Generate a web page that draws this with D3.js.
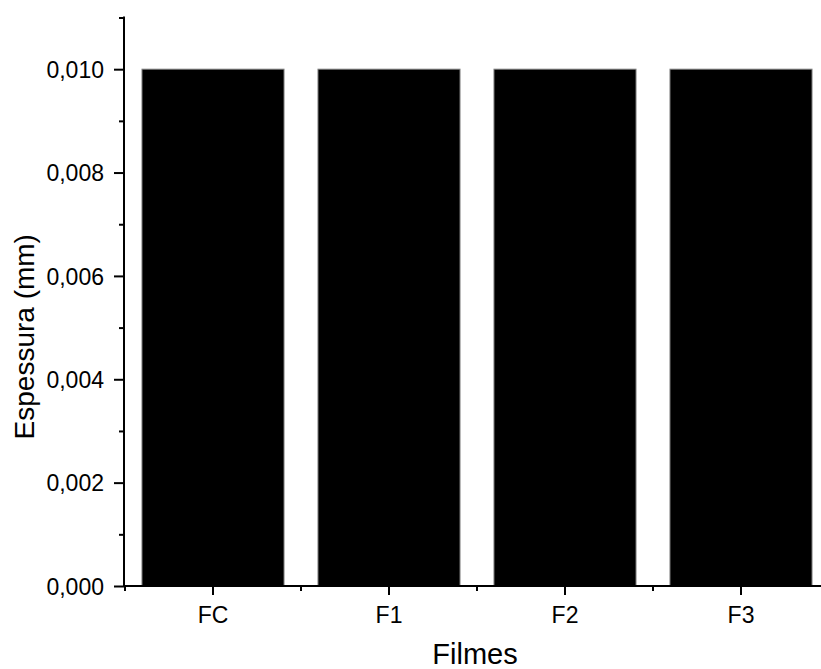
<!DOCTYPE html>
<html>
<head>
<meta charset="utf-8">
<script src="https://cdn.jsdelivr.net/npm/d3@7"></script>
<style>
  body { margin: 0; background: #fff; }
  svg { display: block; }
  text { font-family: "Liberation Sans", Arial, sans-serif; fill: #000; }
</style>
</head>
<body>
<div id="grafico"></div>
<script>
// Dados do gráfico
const filmes = ['FC', 'F1', 'F2', 'F3'];
const espessura = [0.010, 0.010, 0.010, 0.010];
const ticksMaiores = [0, 0.002, 0.004, 0.006, 0.008, 0.010];
const ticksMenores = [0.001, 0.003, 0.005, 0.007, 0.009, 0.011];

const width = 821;
const height = 669;
const x0 = 125, x1 = 829;
const y0 = 586, yTopo = 17.5;

const svg = d3.select('#grafico')
	.append('svg')
	.attr('width', width)
	.attr('height', height);

const x = d3.scaleBand()
	.domain(filmes)
	.range([x0, x1])
	.paddingInner(0.193)
	.paddingOuter(0.0965);

const y = d3.scaleLinear()
	.domain([0, 0.011])
	.range([y0, yTopo]);

const fmt = v => d3.format('.3f')(v).replace('.', ',');

// Barras
svg.selectAll('rect.barra')
	.data(filmes)
	.enter()
	.append('rect')
	.attr('class', 'barra')
	.attr('x', d => x(d))
	.attr('y', (d, i) => y(espessura[i]))
	.attr('width', x.bandwidth())
	.attr('height', (d, i) => y0 - y(espessura[i]))
	.attr('fill', '#000')
	.attr('stroke', '#7f7f7f')
	.attr('stroke-width', 1);

// Eixo Y
const eixoY = svg.append('g')
	.attr('transform', `translate(${x0 - 1},0)`)
	.call(d3.axisLeft(y).tickValues(ticksMaiores).tickFormat(fmt).tickSize(10).tickPadding(10));
eixoY.append('g')
	.call(d3.axisLeft(y).tickValues(ticksMenores).tickFormat('').tickSize(5));
eixoY.selectAll('.domain').remove();
eixoY.append('line')
	.attr('x1', 0).attr('x2', 0)
	.attr('y1', y(0.011) - 1).attr('y2', y0 + 1)
	.attr('stroke', '#000').attr('stroke-width', 2);
eixoY.selectAll('.tick line').attr('stroke', '#000').attr('stroke-width', 2);
eixoY.selectAll('.tick text')
	.style('font-size', '23px')
	.style('font-family', '"Liberation Sans", Arial, sans-serif')
	.attr('dy', '0.36em');

// Eixo X
const eixoX = svg.append('g')
	.attr('transform', `translate(0,${y0})`)
	.call(d3.axisBottom(x).tickSize(9).tickPadding(12));
eixoX.selectAll('.domain').remove();
eixoX.append('line')
	.attr('x1', x0 - 2).attr('x2', width)
	.attr('y1', 0).attr('y2', 0)
	.attr('stroke', '#000').attr('stroke-width', 2);
const limites = filmes.map(d => x(d) - x.step() * x.paddingInner() / 2);
eixoX.selectAll('line.menor')
	.data(limites)
	.enter()
	.append('line')
	.attr('class', 'menor')
	.attr('x1', d => d).attr('x2', d => d)
	.attr('y1', 0).attr('y2', 5)
	.attr('stroke', '#000').attr('stroke-width', 2);
eixoX.selectAll('.tick line').attr('stroke', '#000').attr('stroke-width', 2);
eixoX.selectAll('.tick text')
	.style('font-size', '23px')
	.style('font-family', '"Liberation Sans", Arial, sans-serif');

// Títulos dos eixos
svg.append('text')
	.attr('x', (x0 + x1) / 2 - 2)
	.attr('y', 664)
	.attr('text-anchor', 'middle')
	.style('font-size', '29px')
	.text('Filmes');

svg.append('text')
	.attr('transform', `translate(34,${(y0 + yTopo) / 2 + 35}) rotate(-90)`)
	.attr('text-anchor', 'middle')
	.style('font-size', '28px')
	.text('Espessura (mm)');
</script>
</body>
</html>
